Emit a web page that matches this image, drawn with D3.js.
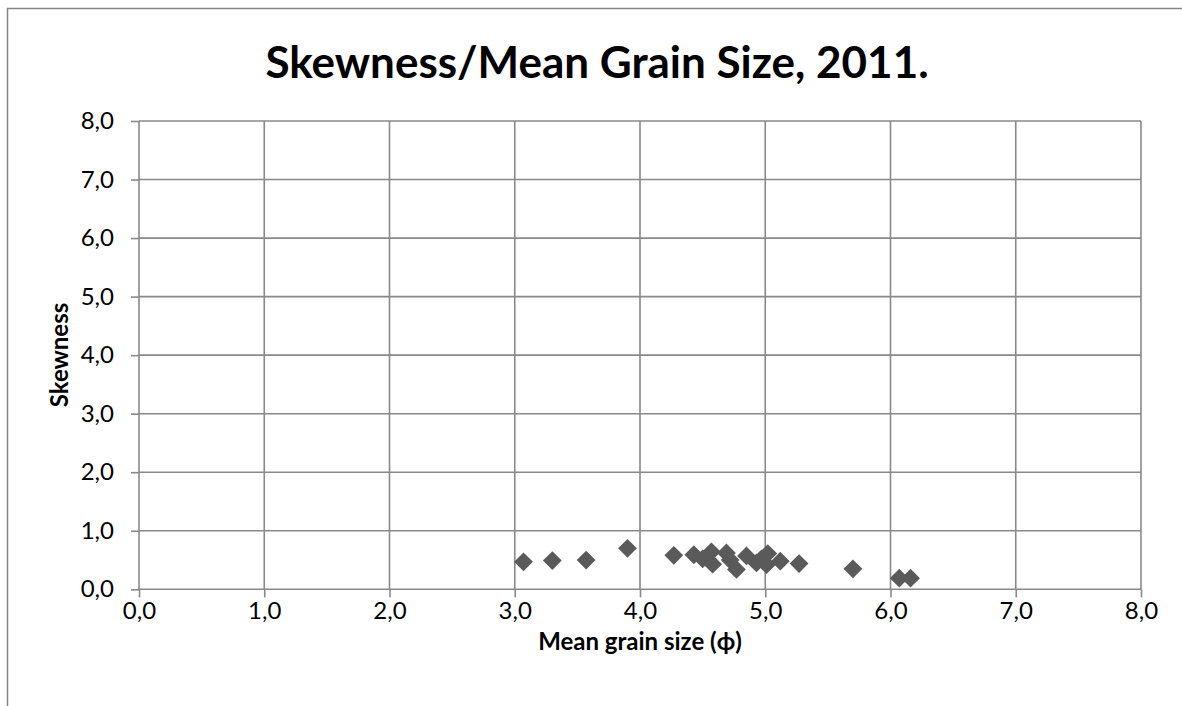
<!DOCTYPE html>
<html><head><meta charset="utf-8">
<script src="https://cdn.jsdelivr.net/npm/d3@7"></script>
<style>body{margin:0;background:#fff}svg{display:block}</style>
</head><body>
<svg id="c" width="1182" height="706"></svg>
<script>
const meanGrainSize = [3.07,3.30,3.57,3.90,4.27,4.43,4.50,4.57,4.58,4.69,4.72,4.77,4.85,4.93,4.97,5.02,5.01,5.12,5.27,5.70,6.07,6.16];
const skewness      = [0.47,0.49,0.50,0.70,0.58,0.59,0.52,0.64,0.43,0.62,0.50,0.34,0.57,0.45,0.52,0.61,0.42,0.48,0.44,0.35,0.19,0.19];
const xTicks = [0,1,2,3,4,5,6,7,8];
const yTicks = [0,1,2,3,4,5,6,7,8];
const titleText = "Skewness/Mean Grain Size, 2011.";
const xTitle = "Mean grain size (\u03D5)";
const yTitle = "Skewness";

const svg = d3.select("#c");
const font = "Lato, 'Open Sans', sans-serif";
const grid = "#898989";
svg.append("rect").attr("x",7.5).attr("y",8.5).attr("width",1180).attr("height",705)
  .attr("fill","#fff").attr("stroke","#868686").attr("stroke-width",1.5);

const x = d3.scaleLinear().domain([0,8]).range([139,1141]);
const y = d3.scaleLinear().domain([0,8]).range([589.3,121]);
const fmt = d => d.toFixed(1).replace(".", ",");

svg.append("g").selectAll("line").data(yTicks).join("line")
  .attr("x1",x(0)).attr("x2",x(8)).attr("y1",d=>y(d)).attr("y2",d=>y(d))
  .attr("stroke",grid).attr("stroke-width",1.6);
svg.append("g").selectAll("line").data(xTicks).join("line")
  .attr("y1",y(0)).attr("y2",y(8)).attr("x1",d=>x(d)).attr("x2",d=>x(d))
  .attr("stroke",grid).attr("stroke-width",1.6);

const xAxis = svg.append("g").attr("transform",`translate(0,${y(0)})`)
  .call(d3.axisBottom(x).tickValues(xTicks).tickFormat(fmt).tickSize(8).tickPadding(5));
const yAxis = svg.append("g").attr("transform",`translate(${x(0)},0)`)
  .call(d3.axisLeft(y).tickValues(yTicks).tickFormat(fmt).tickSize(8).tickPadding(17));
[xAxis,yAxis].forEach(a=>{
  a.select(".domain").remove();
  a.selectAll("line").attr("stroke",grid).attr("stroke-width",1.6);
  a.selectAll("text").attr("font-family",font).attr("font-size",24).attr("fill","#000");
});

const sym = d3.symbol().type(d3.symbolDiamond2).size(225);
svg.append("g").selectAll("path").data(meanGrainSize.map((v,i)=>[v,skewness[i]])).join("path")
  .attr("transform",d=>`translate(${x(d[0])},${y(d[1])})`)
  .attr("d",sym).attr("fill","#5a5a5a");

svg.append("text").attr("x",597).attr("y",78).attr("text-anchor","middle")
  .attr("font-family",font).attr("font-weight","bold").attr("font-size",44).text(titleText);
svg.append("text").attr("x",640).attr("y",650).attr("text-anchor","middle")
  .attr("font-family",font).attr("font-weight","bold").attr("font-size",24).text(xTitle);
svg.append("text").attr("transform","translate(68,355) rotate(-90)").attr("text-anchor","middle")
  .attr("font-family",font).attr("font-weight","bold").attr("font-size",24).text(yTitle);
</script>
</body></html>
